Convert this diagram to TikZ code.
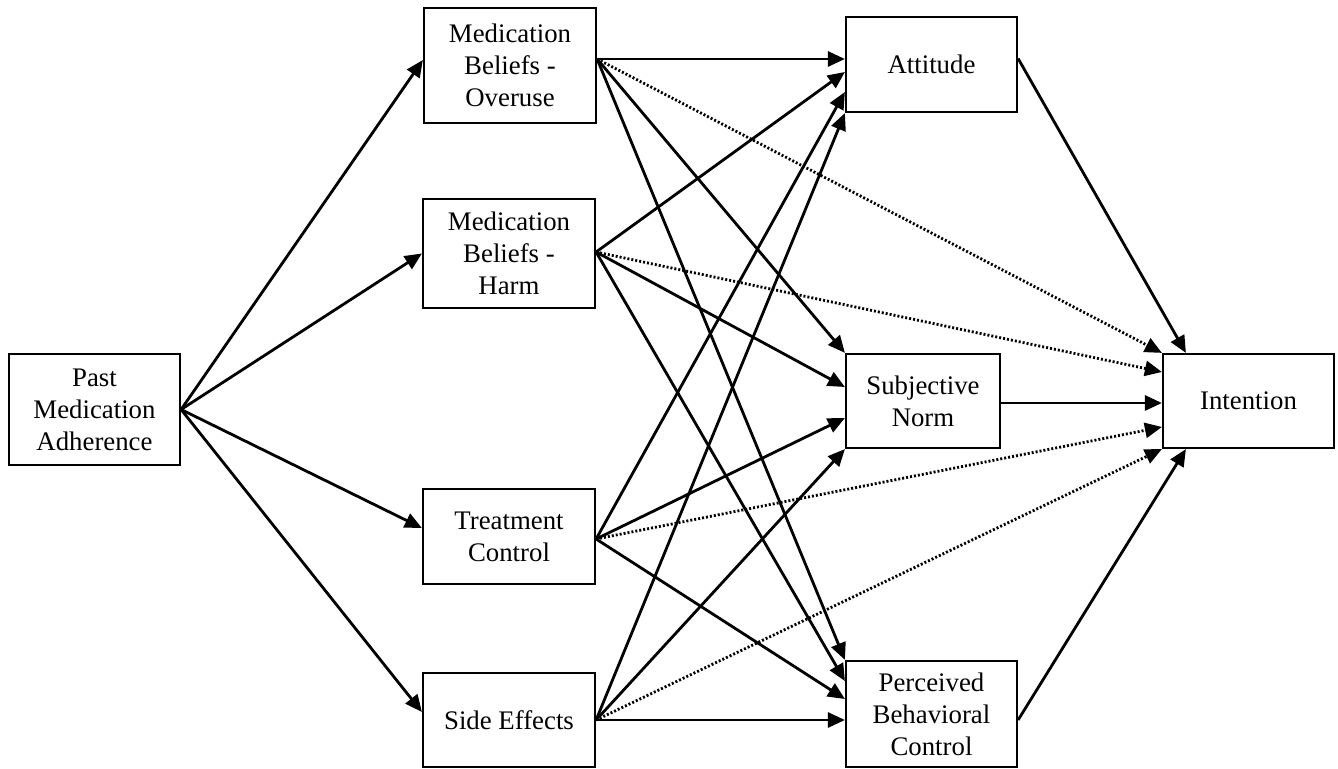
\documentclass[tikz,border=0pt]{standalone}
\usepackage{fontspec}
\setmainfont{Liberation Serif}
\usetikzlibrary{arrows.meta,calc}
\begin{document}
\begin{tikzpicture}[x=0.5pt,y=-0.5pt,
  box/.style={draw,line width=1.1pt,inner sep=0pt,align=center,
    font=\fontsize{13.4}{16}\selectfont},
  arr/.style={line width=1.4pt,-{Triangle[length=8.5pt,width=7.5pt]}},
  dotarr/.style={arr,dash pattern=on 1pt off 1pt}]
\useasboundingbox (0,0) rectangle (1338,769);
\node[box,minimum width=85.5pt,minimum height=55.5pt] (past) at (94.5,409.5) {Past\\Medication\\Adherence};
\node[box,minimum width=86pt,minimum height=57.5pt] (over) at (510,65.5) {Medication\\Beliefs -\\Overuse};
\node[box,minimum width=86pt,minimum height=54.5pt] (harm) at (509,253.5) {Medication\\Beliefs -\\Harm};
\node[box,minimum width=86pt,minimum height=47.5pt] (treat) at (509,536.5) {Treatment\\Control};
\node[box,minimum width=86pt,minimum height=47pt] (side) at (509,720) {Side Effects};
\node[box,minimum width=85.5pt,minimum height=47.5pt] (att) at (931.5,64.5) {Attitude};
\node[box,minimum width=77pt,minimum height=47pt] (subj) at (923,401) {Subjective\\Norm};
\node[box,minimum width=85.5pt,minimum height=53pt] (pbc) at (931.5,714) {Perceived\\Behavioral\\Control};
\node[box,minimum width=85.5pt,minimum height=47pt] (int) at (1248.5,401) {Intention};

% source points
\coordinate (pO) at ($(over.east)+(0,-6.5)$);
\coordinate (pH) at ($(harm.east)+(0,-1.5)$);
\coordinate (pT) at ($(treat.east)+(0,2.5)$);
\coordinate (pS) at (side.east);
\coordinate (pA) at ($(att.east)+(0,-6)$);
\coordinate (pN) at ($(subj.east)+(0,2)$);
\coordinate (pP) at ($(pbc.east)+(0,6)$);

% past to predictors
\draw[arr] (past.east) -- ($(over.west)+(0,-5.5)$);
\draw[arr] (past.east) -- (harm.west);
\draw[arr] (past.east) -- ($(treat.west)+(0,-8.5)$);
\draw[arr] (past.east) -- ($(side.west)+(0,-8)$);

% to attitude
\draw[arr] (pO) -- ($(att.west)+(0,-5.5)$);
\draw[arr] (pH) -- ($(att.west)+(0,7.5)$);
\draw[arr] (pT) -- ($(att.west)+(0,27.5)$);
\draw[arr] (pS) -- (att.south west);

% to subjective norm
\draw[arr] (pO) -- (subj.north west);
\draw[arr] (pH) -- ($(subj.west)+(0,-14)$);
\draw[arr] (pT) -- ($(subj.west)+(0,17)$);
\draw[arr] (pS) -- (subj.south west);

% to PBC
\draw[arr] (pO) -- (pbc.north west);
\draw[arr] (pH) -- ($(pbc.west)+(0,-33)$);
\draw[arr] (pT) -- ($(pbc.west)+(0,-15)$);
\draw[arr] (pS) -- ($(pbc.west)+(0,6)$);

% dotted to intention
\draw[dotarr] (pO) -- (int.north west);
\draw[dotarr] (pH) -- ($(int.west)+(0,-29)$);
\draw[dotarr] (pT) -- ($(int.west)+(0,26)$);
\draw[dotarr] (pS) -- (int.south west);

% TPB to intention
\draw[arr] (pA) -- ($(int.north west)+(24,0)$);
\draw[arr] (pN) -- (int.west |- pN);
\draw[arr] (pP) -- ($(int.south west)+(24,0)$);
\end{tikzpicture}
\end{document}
